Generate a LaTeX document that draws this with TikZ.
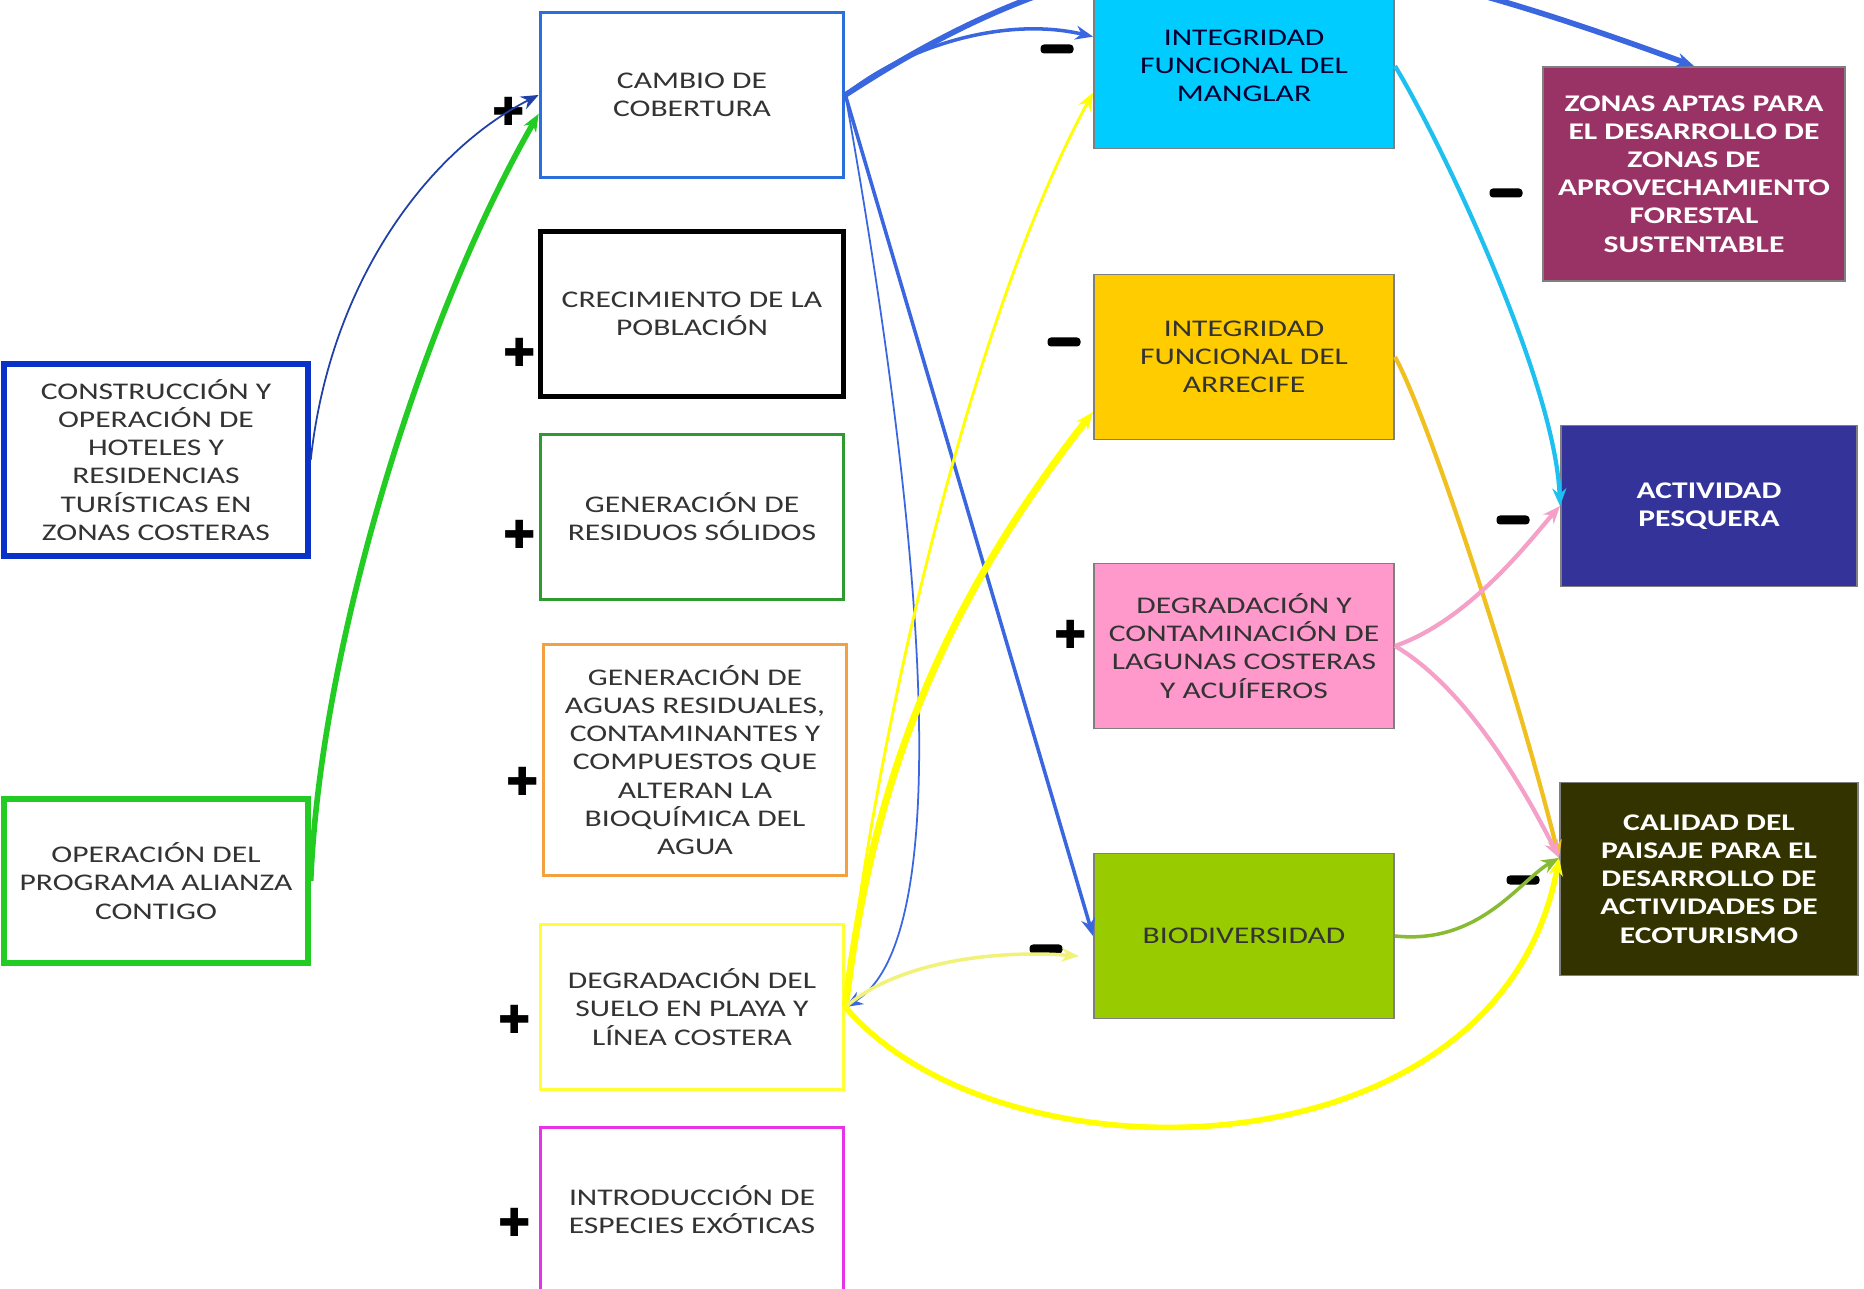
\documentclass[tikz,border=0pt]{standalone}
\usepackage{fontspec}
\setmainfont[FakeStretch=1.32]{Carlito}
\newfontfamily\signfont{DejaVu Sans}
\usetikzlibrary{arrows.meta}

\definecolor{azulosc}{HTML}{0A32C8}
\definecolor{verde}{HTML}{22CC22}
\definecolor{azul}{HTML}{2A6FDB}
\definecolor{verdeosc}{HTML}{2E9B2E}
\definecolor{naranja}{HTML}{F5A040}
\definecolor{amarillo}{HTML}{FFFF33}
\definecolor{fucsia}{HTML}{E633E6}
\definecolor{cian}{HTML}{00CCFF}
\definecolor{oro}{HTML}{FFCC00}
\definecolor{rosa}{HTML}{FF99CC}
\definecolor{lima}{HTML}{99CC00}
\definecolor{vino}{HTML}{993366}
\definecolor{indigo}{HTML}{333399}
\definecolor{olivo}{HTML}{333300}
\definecolor{gristxt}{HTML}{333333}
\definecolor{borde}{HTML}{7F7F7F}
\definecolor{flazul}{HTML}{3A66E0}
\definecolor{flazulosc}{HTML}{2040A8}
\definecolor{flamarillo}{HTML}{FFFF00}
\definecolor{flamarillocl}{HTML}{F2F27A}
\definecolor{flcian}{HTML}{1EC0F0}
\definecolor{floro}{HTML}{F0C020}
\definecolor{flrosa}{HTML}{F4A0C8}
\definecolor{fllima}{HTML}{88BB33}

\tikzset{
  causa/.style={rectangle, draw, line width=1pt, fill=white, text=gristxt, align=center,
    minimum width=3.03cm, minimum height=1.65cm, inner sep=0pt,
    font=\fontsize{6.8}{8}\selectfont},
  efecto/.style={rectangle, draw=borde, line width=0.5pt, text=gristxt, align=center,
    minimum width=3cm, minimum height=1.65cm, inner sep=0pt,
    font=\fontsize{6.8}{8}\selectfont},
  impacto/.style={efecto, text=white, font=\fontsize{6.8}{8}\selectfont\bfseries},
  flecha/.style={-{Stealth[length=5pt,width=4pt]}},
  possign/.style={font=\signfont\fontsize{11}{11}\selectfont, inner sep=0pt},
  negsign/.style={rectangle, fill=black, rounded corners=1pt, minimum width=0.33cm,
    minimum height=0.09cm, inner sep=0pt}
}

\begin{document}
\begin{tikzpicture}[x=0.01cm, y=-0.01cm]
  \fill[white] (0,0) rectangle (1864,1289);
  \useasboundingbox (0,0) rectangle (1864,1289);

  % Causas externas
  \node[causa, draw=azulosc, line width=1.5pt, minimum width=3.04cm, minimum height=1.92cm] (cons) at (156,460)
    {CONSTRUCCIÓN Y\\OPERACIÓN DE\\HOTELES Y\\RESIDENCIAS\\TURÍSTICAS EN\\ZONAS COSTERAS};
  \node[causa, draw=verde, line width=1.5pt, minimum width=3.04cm, minimum height=1.64cm] (alianza) at (156,881)
    {OPERACIÓN DEL\\PROGRAMA ALIANZA\\CONTIGO};

  % Presiones
  \node[causa, draw=azul] (cambio) at (692,95) {CAMBIO DE\\COBERTURA};
  \node[causa, draw=black, line width=1.3pt] (crec) at (692,314) {CRECIMIENTO DE LA\\POBLACIÓN};
  \node[causa, draw=verdeosc] (resid) at (692,517) {GENERACIÓN DE\\RESIDUOS SÓLIDOS};
  \node[causa, draw=naranja, minimum height=2.31cm] (aguas) at (695,760)
    {GENERACIÓN DE\\AGUAS RESIDUALES,\\CONTAMINANTES Y\\COMPUESTOS QUE\\ALTERAN LA\\BIOQUÍMICA DEL\\AGUA};
  \node[causa, draw=amarillo] (suelo) at (692,1007) {DEGRADACIÓN DEL\\SUELO EN PLAYA Y\\LÍNEA COSTERA};
  \node[causa, draw=fucsia] (especies) at (692,1210) {INTRODUCCIÓN DE\\ESPECIES EXÓTICAS};

  % Estado
  \node[efecto, fill=cian, text=black!80!blue] (manglar) at (1244,66) {INTEGRIDAD\\FUNCIONAL DEL\\MANGLAR};
  \node[efecto, fill=oro] (arrecife) at (1244,357) {INTEGRIDAD\\FUNCIONAL DEL\\ARRECIFE};
  \node[efecto, fill=rosa] (lagunas) at (1244,646) {DEGRADACIÓN Y\\CONTAMINACIÓN DE\\LAGUNAS COSTERAS\\Y ACUÍFEROS};
  \node[efecto, fill=lima] (biodiv) at (1244,936) {BIODIVERSIDAD};

  % Impactos
  \node[impacto, fill=vino, minimum width=3.02cm, minimum height=2.14cm] (zonas) at (1694,174)
    {ZONAS APTAS PARA\\EL DESARROLLO DE\\ZONAS DE\\APROVECHAMIENTO\\FORESTAL\\SUSTENTABLE};
  \node[impacto, fill=indigo, minimum width=2.96cm, minimum height=1.61cm] (pesca) at (1709,506) {ACTIVIDAD\\PESQUERA};
  \node[impacto, fill=olivo, minimum width=2.98cm, minimum height=1.93cm] (calidad) at (1709,879)
    {CALIDAD DEL\\PAISAJE PARA EL\\DESARROLLO DE\\ACTIVIDADES DE\\ECOTURISMO};

  % Signos
  \node[possign] (p1) at (509,111) {✚};
  \node[possign] (p2) at (520,352) {✚};
  \node[possign] (p3) at (520,534) {✚};
  \node[possign] (p4) at (523,781) {✚};
  \node[possign] (p5) at (515,1019) {✚};
  \node[possign] (p6) at (515,1222) {✚};
  \node[possign] (p7) at (1071,634) {✚};
  \node[negsign] (m1) at (1057,49) {};
  \node[negsign] (m2) at (1064,342) {};
  \node[negsign] (m3) at (1506,193) {};
  \node[negsign] (m4) at (1513,520) {};
  \node[negsign] (m5) at (1046,949) {};
  \node[negsign] (m6) at (1523,880) {};

  % Hacia cambio de cobertura
  \draw[flecha, flazulosc, line width=0.5pt] (cons.east) .. controls (330,280) and (430,150) .. (cambio.west);
  \draw[flecha, verde, line width=1.6pt] (alianza.east) .. controls (320,650) and (420,320) .. (cambio.187);

  % Desde cambio de cobertura
  \draw[flecha, flazul, line width=1pt] (cambio.east) .. controls (900,50) and (1000,15) .. (manglar.169);
  \draw[flecha, flazul, line width=1.6pt] (cambio.east) .. controls (1144,-100) and (1338,-64) .. (zonas.north);
  \draw[flecha, flazul, line width=1pt] (cambio.east) -- (biodiv.west);
  \draw[flecha, flazul, line width=0.5pt] (cambio.east) .. controls (900,400) and (975,930) .. (suelo.east);

  % Desde degradacion del suelo
  \draw[flecha, flamarillo, line width=0.8pt] (suelo.east) .. controls (880,700) and (980,300) .. (manglar.190);
  \draw[flecha, flamarillo, line width=2pt] (suelo.east) .. controls (870,800) and (930,620) .. (arrecife.200);
  \draw[flecha, flamarillocl, line width=1pt, shorten >=4pt] (suelo.east) .. controls (900,960) and (1000,950) .. (biodiv.188);
  \draw[flecha, flamarillo, line width=1.6pt] (suelo.east) .. controls (1000,1190) and (1500,1180) .. (calidad.172);

  % Hacia los impactos
  \draw[flecha, flcian, line width=1.2pt] (manglar.east) .. controls (1440,140) and (1555,380) .. (pesca.west);
  \draw[flecha, floro, line width=1.2pt] (arrecife.east) .. controls (1430,420) and (1520,700) .. (calidad.172);
  \draw[flecha, flrosa, line width=1.2pt] (lagunas.east) .. controls (1470,620) and (1530,540) .. (pesca.west);
  \draw[flecha, flrosa, line width=1.2pt] (lagunas.east) .. controls (1470,690) and (1530,800) .. (calidad.172);
  \draw[flecha, fllima, line width=1pt] (biodiv.east) .. controls (1480,945) and (1520,880) .. (calidad.172);
\end{tikzpicture}
\end{document}
